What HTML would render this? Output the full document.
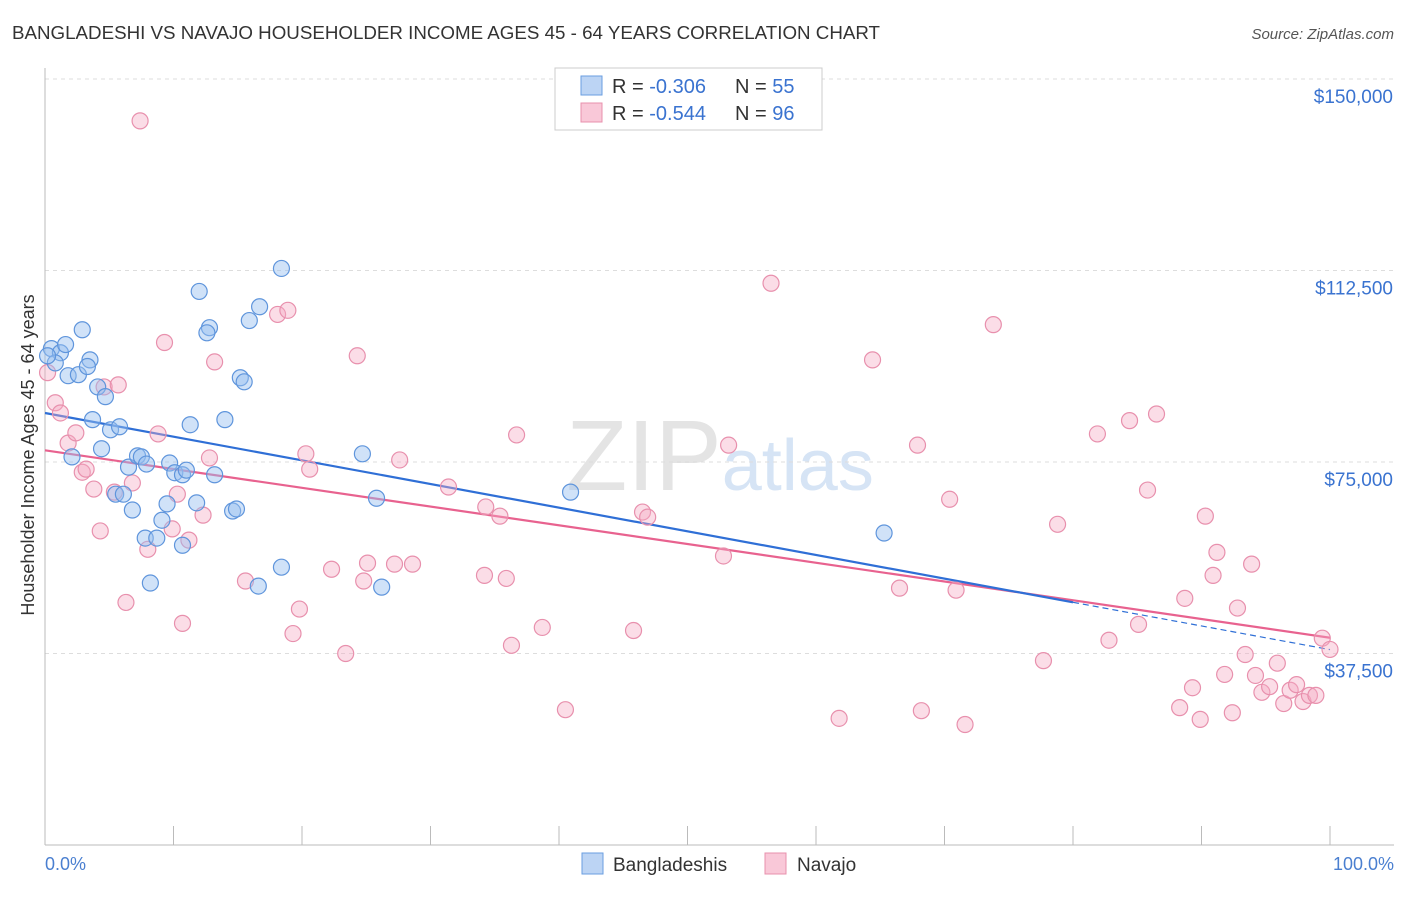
<!DOCTYPE html>
<html><head><meta charset="utf-8"><style>
body{margin:0;background:#fff;font-family:"Liberation Sans",sans-serif}
svg text{font-family:"Liberation Sans",sans-serif}
</style></head><body>
<svg id="chart" width="1406" height="892" xmlns="http://www.w3.org/2000/svg">
<text x="12" y="39" font-size="18" fill="#333" textLength="868" lengthAdjust="spacingAndGlyphs">BANGLADESHI VS NAVAJO HOUSEHOLDER INCOME AGES 45 - 64 YEARS CORRELATION CHART</text>
<text x="1394" y="39" font-size="15" fill="#555" text-anchor="end" font-style="italic">Source: ZipAtlas.com</text>
<text x="720" y="490" font-size="100" text-anchor="middle" fill="#e4e4e4" font-family="Liberation Serif">ZIP<tspan fill="#d6e4f5" font-family="Liberation Sans" font-size="72">atlas</tspan></text>
<g id="grid"></g><g id="axes"></g><g id="lines"></g><g id="pts"></g>
<text transform="translate(34,455) rotate(-90)" font-size="18" fill="#333" text-anchor="middle">Householder Income Ages 45 - 64 years</text>
<text x="45" y="870" font-size="18" fill="#4a7fd0">0.0%</text>
<text x="1394" y="870" font-size="18" fill="#4a7fd0" text-anchor="end">100.0%</text>
<g>
<rect x="555" y="68" width="267" height="62" fill="#fff" stroke="#ccc"/>
<rect x="581" y="76" width="21" height="19" fill="#bcd4f4" stroke="#6a9ee0"/>
<rect x="581" y="103" width="21" height="19" fill="#f9c8d8" stroke="#e890ad"/>
<text x="612" y="93" font-size="20" fill="#333">R = <tspan fill="#3a73d0">-0.306</tspan></text>
<text x="735" y="93" font-size="20" fill="#333">N = <tspan fill="#3a73d0">55</tspan></text>
<text x="612" y="120" font-size="20" fill="#333">R = <tspan fill="#3a73d0">-0.544</tspan></text>
<text x="735" y="120" font-size="20" fill="#333">N = <tspan fill="#3a73d0">96</tspan></text>
</g>
<g><rect x="582" y="853" width="21" height="21" fill="#bcd4f4" stroke="#6a9ee0"/><text x="613" y="871" font-size="19" fill="#333">Bangladeshis</text></g>
<g><rect x="765" y="853" width="21" height="21" fill="#f9c8d8" stroke="#e890ad"/><text x="797" y="871" font-size="19" fill="#333">Navajo</text></g>
</svg>
<script>
const yTicks=[150000,112500,75000,37500];
const yTickLabels=["$150,000","$112,500","$75,000","$37,500"];
const blueX=[0.5,1.2,1.6,0.8,1.8,2.6,2.9,3.5,3.3,4.1,4.7,3.7,5.1,5.8,4.4,2.1,6.5,7.2,7.5,7.9,5.5,6.1,6.8,7.8,8.7,9.1,8.2,9.7,10.1,10.7,11.0,9.5,10.7,11.8,11.3,13.2,14.0,12.0,12.8,12.6,15.2,15.5,15.9,16.7,18.4,14.6,14.9,16.6,18.4,24.7,25.8,26.2,40.9,65.3,0.2];
const blueY=[97.2,96.4,98.0,94.4,91.9,92.1,100.9,95.0,93.7,89.7,87.8,83.3,81.3,81.9,77.6,76.0,74.0,76.2,76.0,74.6,68.7,68.7,65.6,60.1,60.1,63.6,51.3,74.8,72.9,72.5,73.4,66.8,58.7,67.0,82.3,72.5,83.3,108.4,101.3,100.3,91.5,90.7,102.7,105.4,112.9,65.4,65.8,50.7,54.4,76.6,67.9,50.5,69.1,61.1,95.8];
const pinkX=[0.2,0.8,1.2,1.8,2.4,2.9,3.2,3.8,4.3,4.6,5.7,6.8,5.4,6.3,7.4,8.0,8.8,9.3,9.9,10.3,10.7,11.2,12.3,12.8,13.2,15.6,18.1,18.9,19.3,19.8,20.3,20.6,22.3,23.4,24.3,24.8,25.1,27.2,27.6,28.6,31.4,34.2,34.3,35.4,35.9,36.3,36.7,38.7,40.5,45.8,46.5,46.9,52.8,53.2,56.5,61.8,64.4,66.5,67.9,68.2,70.4,70.9,71.6,73.8,77.7,78.8,81.9,82.8,84.4,85.1,85.8,86.5,88.3,88.7,89.3,89.9,90.3,90.9,91.2,91.8,92.4,92.8,93.4,93.9,94.2,94.7,95.3,95.9,96.4,96.9,97.4,97.9,98.4,98.9,99.4,100];
const pinkY=[92.5,86.6,84.6,78.7,80.7,73.0,73.6,69.7,61.5,89.7,90.1,70.9,69.1,47.5,141.8,57.9,80.5,98.4,61.9,68.7,43.4,59.7,64.6,75.8,94.6,51.7,103.9,104.7,41.4,46.2,76.6,73.6,54.0,37.5,95.8,51.7,55.2,55.0,75.4,55.0,70.1,52.8,66.2,64.4,52.2,39.1,80.3,42.6,26.5,42.0,65.2,64.2,56.6,78.3,110.0,24.8,95.0,50.3,78.3,26.3,67.7,49.9,23.6,101.9,36.1,62.8,80.5,40.1,83.1,43.2,69.5,84.4,26.9,48.3,30.8,24.6,64.4,52.8,57.3,33.4,25.9,46.4,37.3,55.0,33.2,29.9,31.0,35.6,27.7,30.3,31.4,28.1,29.3,29.3,40.5,38.3];
const NS='http://www.w3.org/2000/svg';
const xS=p=>45+p*12.85;
const yS=v=>79+(150-v)/37.5*191.5;
function mk(t,a,parent){const e=document.createElementNS(NS,t);for(const k in a)e.setAttribute(k,a[k]);document.getElementById(parent).appendChild(e);return e;}
yTicks.forEach((t,i)=>{
 const l=mk('line',{x1:45,x2:1394,y1:yS(t/1000),y2:yS(t/1000),stroke:'#ddd','stroke-dasharray':'4 4'},'grid');
 
 
 const tx=mk('text',{x:1393,y:yS(t/1000)+24,'font-size':19,fill:'#3a73d0','text-anchor':'end'},'grid');
 tx.textContent=yTickLabels[i];
 
 
});
const ax=mk('line',{x1:45,x2:1394,y1:845,y2:845,stroke:'#bbb'},'axes');


const ay=mk('line',{x1:45,x2:45,y1:68,y2:845,stroke:'#bbb'},'axes');


for(let i=0;i<=10;i++){
 const t=mk('line',{x1:xS(i*10),x2:xS(i*10),y1:826,y2:845,stroke:'#bbb'},'axes');
 
 
}
function fit(X,Y){const n=X.length;let mx=0,my=0;X.forEach((x,i)=>{mx+=x;my+=Y[i]});mx/=n;my/=n;let sxy=0,sxx=0;X.forEach((x,i)=>{sxy+=(x-mx)*(Y[i]-my);sxx+=(x-mx)**2});const b=sxy/sxx;return [my-b*mx,b];}
const [ba,bb]=fit(blueX,blueY),[pa,pb]=fit(pinkX,pinkY);
let l=mk('line',{x1:xS(0),y1:yS(pa),x2:xS(100),y2:yS(pa+pb*100),stroke:'#e8628f','stroke-width':2.2},'lines');


l=mk('line',{x1:xS(0),y1:yS(ba),x2:xS(80),y2:yS(ba+bb*80),stroke:'#2f6fd6','stroke-width':2.2},'lines');


l=mk('line',{x1:xS(80),y1:yS(ba+bb*80),x2:xS(100),y2:yS(ba+bb*100),stroke:'#2f6fd6','stroke-width':1.2,'stroke-dasharray':'6 4'},'lines');


pinkX.forEach((x,i)=>{const c=mk('circle',{cx:xS(x),cy:yS(pinkY[i]),r:8,fill:'rgba(245,170,196,0.4)',stroke:'#e890ad','stroke-width':1.2},'pts');
 
 });
blueX.forEach((x,i)=>{const c=mk('circle',{cx:xS(x),cy:yS(blueY[i]),r:8,fill:'rgba(150,190,240,0.45)',stroke:'#5f95dc','stroke-width':1.2},'pts');
 
 });
</script>
</body></html>
